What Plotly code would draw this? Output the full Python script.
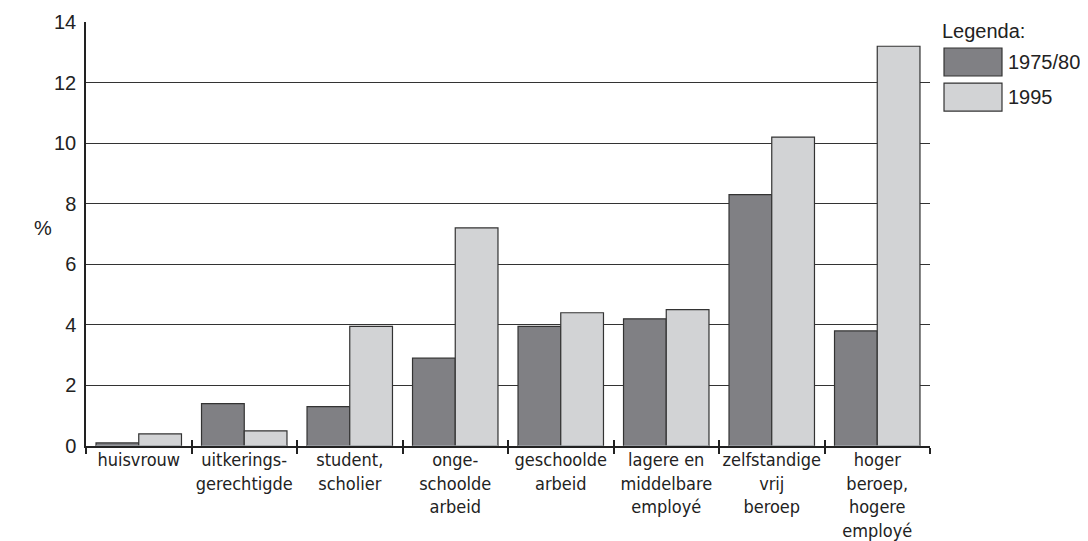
import plotly.graph_objects as go

categories = ["huisvrouw", "uitkerings-<br>gerechtigde", "student,<br>scholier",
              "onge-<br>schoolde<br>arbeid", "geschoolde<br>arbeid",
              "lagere en<br>middelbare<br>employé", "zelfstandige<br>vrij<br>beroep",
              "hoger<br>beroep,<br>hogere<br>employé"]
series_names = ["1975/80", "1995"]
values_1975_80 = [0.1, 1.4, 1.3, 2.9, 3.95, 4.2, 8.3, 3.8]
values_1995 = [0.4, 0.5, 3.95, 7.2, 4.4, 4.5, 10.2, 13.2]
y_ticks = [0, 2, 4, 6, 8, 10, 12, 14]

colors = ["#808084", "#d2d3d5"]
edge = "#333333"
txt = "#222222"

fig = go.Figure()
for name, vals, col in zip(series_names, [values_1975_80, values_1995], colors):
    fig.add_trace(go.Bar(x=categories, y=vals, name=name, marker_color=col,
                         marker_line_color=edge, marker_line_width=1.2,
                         showlegend=False))
# inner half of the crossing tick marks via an overlay axis
fig.add_trace(go.Bar(x=categories, y=[0] * len(categories), xaxis="x2",
                     showlegend=False, hoverinfo="skip", marker_color="rgba(0,0,0,0)"))

fig.update_layout(
    width=1088, height=541,
    margin=dict(l=78, r=166, t=14, b=103),
    plot_bgcolor="white", paper_bgcolor="white",
    barmode="group", bargap=0.19, bargroupgap=0,
    font=dict(family="Liberation Sans, Arial, sans-serif", size=20, color=txt),
    xaxis=dict(showline=True, linecolor="#222", linewidth=1.5, automargin=False,
               ticks="outside", tickson="boundaries", ticklen=6, tickwidth=1.5,
               tickcolor="#222", showgrid=False, tickangle=0, ticklabelstandoff=-3,
               tickfont=dict(family="Liberation Sans Narrow, DejaVu Sans Condensed, sans-serif",
                             size=18, color=txt)),
    xaxis2=dict(overlaying="x", matches="x", anchor="y", side="bottom", automargin=False,
                ticks="inside", tickson="boundaries", ticklen=6, tickwidth=1.5,
                tickcolor="#222", showticklabels=False, showgrid=False, showline=False,
                tickangle=0),
    yaxis=dict(range=[0, 14], tickvals=y_ticks, showline=True, linecolor="#222",
               linewidth=1.5, showgrid=True, gridcolor="#333", gridwidth=1,
               zeroline=False, ticks="", ticklabelstandoff=4, automargin=False,
               tickfont=dict(size=20, color=txt)),
)

fig.add_annotation(text="%", xref="paper", yref="paper", x=-0.038, y=0.514,
                   xanchor="right", yanchor="middle", showarrow=False,
                   font=dict(size=20, color=txt))

# legend drawn as boxes + text
fig.add_annotation(text="Legenda:", xref="paper", yref="paper", x=1.012, y=0.979,
                   xanchor="left", yanchor="middle", showarrow=False,
                   font=dict(size=20, color=txt))
swatch_y = [(0.9387, 0.8726), (0.856, 0.790)]
for (y0, y1), name, col in zip(swatch_y, series_names, colors):
    fig.add_shape(type="rect", xref="paper", yref="paper", x0=1.0166, x1=1.0853,
                  y0=y1, y1=y0, fillcolor=col, line=dict(color=edge, width=1.2))
    fig.add_annotation(text=name, xref="paper", yref="paper", x=1.090, y=(y0 + y1) / 2,
                       xanchor="left", yanchor="middle", showarrow=False,
                       font=dict(size=20, color=txt))

fig.write_html("out.html")
